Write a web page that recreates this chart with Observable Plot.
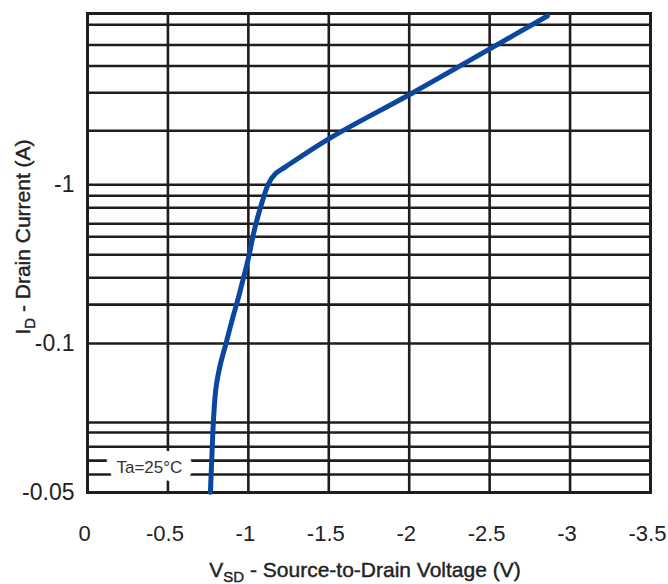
<!DOCTYPE html>
<html><head><meta charset="utf-8">
<script src="https://cdn.jsdelivr.net/npm/d3@7"></script>
<script src="https://cdn.jsdelivr.net/npm/@observablehq/plot@0.6"></script>
<style>body{margin:0;background:#fff}</style>
</head><body><div id="chart"></div>
<script>
// Curve: source-to-drain voltage (V) vs drain current (A)
const vsd = [-0.764, -0.774, -0.783, -0.799, -0.827, -0.861, -0.898, -0.938, -0.970, -1.001, -1.032, -1.057, -1.088, -1.125, -1.168, -1.231, -1.510, -2.020, -2.523, -2.859];
const idA = [-0.01156, -0.0203, -0.0328, -0.0528, -0.0747, -0.100, -0.1395, -0.1946, -0.260, -0.3475, -0.492, -0.620, -0.793, -1.015, -1.173, -1.298, -1.976, -3.79, -7.39, -11.57];

const xDomain = [0, -3.5];
const xTicks = [0, -0.5, -1, -1.5, -2, -2.5, -3, -3.5];
const xTickLabels = ["0", "-0.5", "-1", "-1.5", "-2", "-2.5", "-3", "-3.5"];
const xGrid = [-0.5, -1, -1.5, -2, -2.5, -3];

const yDomain = [-0.01153, -12];
const yTicks = [-1, -0.1, -0.01153];
const yTickLabels = ["-1", "-0.1", "-0.05"];
const yGrid = [-10.2, -7.6, -5.6, -3.8, -2.19, -1, -0.853, -0.717, -0.568, -0.471, -0.3625, -0.26, -0.176, -0.1, -0.0318, -0.0275, -0.0224, -0.0183, -0.01496];

const notes = [{x: -0.385, y: -0.01656, text: "Ta=25°C"}];

const data = vsd.map((v, i) => ({v, i: idA[i]}));
const ink = "#211d1d";
const font = "'Liberation Sans', Arial, Helvetica, sans-serif";

const plot = Plot.plot({
  width: 668, height: 584,
  marginLeft: 87, marginRight: 18, marginTop: 13, marginBottom: 92,
  x: {domain: xDomain, axis: null},
  y: {type: "log", domain: yDomain, axis: null},
  style: {fontFamily: font, background: "white", color: "#222"},
  marks: [
    Plot.ruleX(xGrid, {stroke: ink, strokeWidth: 2.6}),
    Plot.ruleY(yGrid, {stroke: ink, strokeWidth: 2.6}),
    Plot.text(notes, {x: "x", y: "y", text: "text", fill: "#333", stroke: "white", strokeWidth: 20, fontSize: 17}),
    Plot.frame({stroke: ink, strokeWidth: 3}),
    Plot.line(data, {x: "v", y: "i", stroke: "#0b479e", strokeWidth: 5, curve: "catmull-rom"}),
    Plot.axisX({ticks: xTicks, tickFormat: d => xTickLabels[xTicks.indexOf(d)], tickSize: 0, tickPadding: 33, dx: -3, fontSize: 22, label: null, fill: "#222"}),
    Plot.axisY({ticks: yTicks, tickFormat: d => yTickLabels[yTicks.indexOf(d)], tickSize: 0, tickPadding: 13, fontSize: 23, label: null, fill: "#222"})
  ]
});

document.getElementById("chart").appendChild(plot);

const svg = d3.select(plot);
const xt = svg.append("text")
  .attr("x", 365).attr("y", 577)
  .attr("text-anchor", "middle")
  .attr("font-family", font).attr("font-size", 21).attr("fill", "#222")
  .attr("stroke", "#222").attr("stroke-width", 0.4);
xt.append("tspan").text("V");
xt.append("tspan").attr("font-size", 15).attr("dy", 5).text("SD");
xt.append("tspan").attr("dy", -5).text(" - Source-to-Drain Voltage (V)");

const yt = svg.append("text")
  .attr("transform", "translate(30,237) rotate(-90)")
  .attr("text-anchor", "middle")
  .attr("font-family", font).attr("font-size", 21).attr("fill", "#222")
  .attr("stroke", "#222").attr("stroke-width", 0.4);
yt.append("tspan").text("I");
yt.append("tspan").attr("font-size", 15).attr("dy", 5).text("D");
yt.append("tspan").attr("dy", -5).text(" - Drain Current (A)");
</script>
</body></html>
